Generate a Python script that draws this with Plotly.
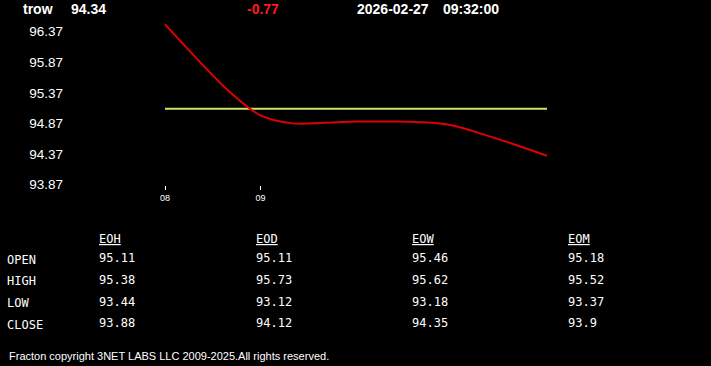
import plotly.graph_objects as go

W, H = 711, 366

symbol = "trow"
last_price = "94.34"
change = "-0.77"
date_str = "2026-02-27"
time_str = "09:32:00"

# minutes after 08:00
line_x = [0, 20, 40, 60, 80, 100, 120, 140, 160, 180, 200, 220, 240]
line_y = [96.49, 95.93, 95.40, 95.00, 94.87, 94.88, 94.90, 94.90, 94.89, 94.84, 94.69, 94.52, 94.34]
open_x = [0, 240]
open_y = [95.11, 95.11]

xtick_vals = [0, 60]
xtick_text = ["08", "09"]
ytick_vals = [96.37, 95.87, 95.37, 94.87, 94.37, 93.87]
ytick_text = ["96.37", "95.87", "95.37", "94.87", "94.37", "93.87"]

row_labels = ["OPEN", "HIGH", "LOW", "CLOSE"]
col_labels = ["EOH", "EOD", "EOW", "EOM"]
eoh = ["95.11", "95.38", "93.44", "93.88"]
eod = ["95.11", "95.73", "93.12", "94.12"]
eow = ["95.46", "95.62", "93.18", "94.35"]
eom = ["95.18", "95.52", "93.37", "93.9"]
columns = [eoh, eod, eow, eom]

footer = "Fracton copyright 3NET LABS LLC 2009-2025.All rights reserved."

YS = 1.021  # vertical calibration

# layout helpers (pixel -> paper)
def px(x):
    return x / W

def py(y):
    return 1 - (y * YS) / H

plot_left, plot_right = 64, 711
plot_top, plot_bottom = 20, 185
x0_px, px_per_min = 165, 95.5 / 60
x_range = [(plot_left - x0_px) / px_per_min, (plot_right - x0_px) / px_per_min]
px_per_unit = 61.0
y_ref_val, y_ref_px = 96.37, 31.7
y_range = [y_ref_val - (plot_bottom - y_ref_px) / px_per_unit,
           y_ref_val + (y_ref_px - plot_top) / px_per_unit]

fig = go.Figure()
fig.add_trace(go.Scatter(x=open_x, y=open_y, mode="lines",
                         line=dict(color="#cfe06c", width=2), hoverinfo="skip"))
fig.add_trace(go.Scatter(x=line_x, y=line_y, mode="lines",
                         line=dict(color="#e00000", width=2, shape="spline", smoothing=1.0),
                         hoverinfo="skip"))

ann = []
sans = "Liberation Sans, Arial, sans-serif"
mono = "DejaVu Sans Mono, monospace"

def add(text, x, y, size, color="white", family=sans, bold=False, **kw):
    ann.append(dict(text=f"<b>{text}</b>" if bold else text, x=px(x), y=py(y),
                    xref="paper", yref="paper", xanchor="left", yanchor="middle",
                    borderpad=0, borderwidth=0,
                    showarrow=False, font=dict(size=size, color=color, family=family, **kw)))

add(symbol, 23, 9, 14, bold=True)
add(last_price, 71, 9, 14, bold=True)
add(change, 247, 9, 14, color="#ff1a1a", bold=True)
add(date_str, 357, 9, 14, bold=True)
add(time_str, 443, 9, 14, bold=True)

col_x = [99, 255.5, 411.5, 567.5]
label_y = [260, 281, 302.5, 325]
val_y = [258, 280, 302, 323]
for cx, lab in zip(col_x, col_labels):
    add(lab, cx, 238.5, 12, family=mono, lineposition="under")
for ry, lab in zip(label_y, row_labels):
    add(lab, 7, ry, 12, family=mono)
for cx, col in zip(col_x, columns):
    for ry, v in zip(val_y, col):
        add(v, cx, ry, 12, family=mono)

add(footer, 9, 355, 11)

fig.update_layout(
    width=W, height=H, margin=dict(l=0, r=0, t=0, b=0),
    paper_bgcolor="black", plot_bgcolor="black", showlegend=False,
    annotations=ann,
    xaxis=dict(domain=[px(plot_left), px(plot_right)], range=x_range,
               tickvals=xtick_vals, ticktext=xtick_text, ticks="outside",
               ticklen=4, tickcolor="white", tickwidth=1,
               tickfont=dict(size=9, color="white", family=sans),
               showgrid=False, zeroline=False, showline=False, fixedrange=True),
    yaxis=dict(domain=[py(plot_bottom), py(plot_top)], range=y_range,
               tickvals=ytick_vals, ticktext=ytick_text, ticks="",
               tickfont=dict(size=13.5, color="white", family=sans),
               showgrid=False, zeroline=False, showline=False, fixedrange=True),
)

fig.write_html("out.html", config={"displayModeBar": False},
               post_script="document.body.style.margin='0';document.body.style.background='black';")
